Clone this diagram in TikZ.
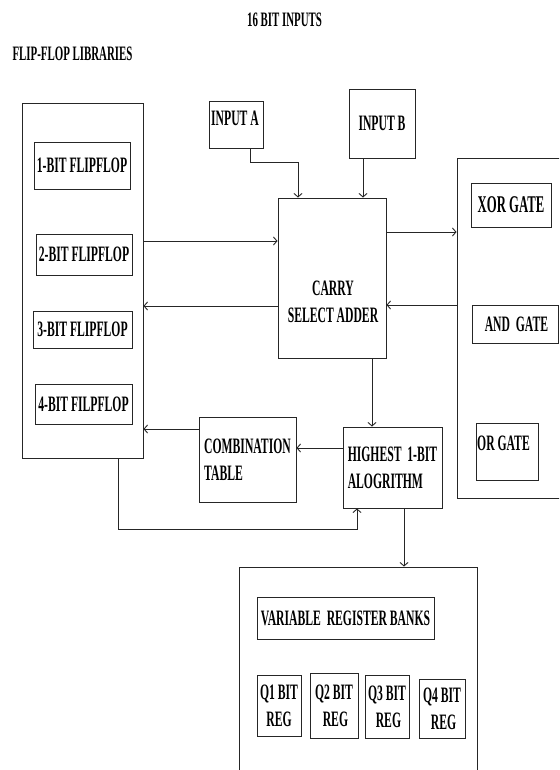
\documentclass[tikz,border=0pt]{standalone}
\usepackage{fontspec}
\usetikzlibrary{arrows.meta}
\newfontfamily\dfont[FakeStretch=0.53]{Liberation Serif Bold}
\tikzset{
  x=1pt, y=-1pt,
  box/.style={draw=black!85, line width=0.9pt, rectangle, inner sep=0pt, font=\dfont\fontsize{22}{27}\selectfont, align=center},
  txt/.style={inner sep=0pt, font=\dfont\fontsize{22}{27}\selectfont, align=center},
  ttl/.style={inner sep=0pt, font=\dfont\fontsize{20.5}{24}\selectfont},
  arr/.style={draw=black!85, line width=0.9pt, -{Straight Barb[length=3.5pt,width=8pt]}},
  ln/.style={draw=black!85, line width=0.9pt}
}
\begin{document}
\begin{tikzpicture}
\useasboundingbox (0,0) rectangle (559,770);
\clip (0,0) rectangle (559,770);
\fill[white] (0,0) rectangle (559,770);
% titles
\node[ttl] (t1) at (284.5,20) {16 BIT INPUTS};
\node[ttl] (t2) at (72.5,53.5) {FLIP-FLOP LIBRARIES};
% flip-flop library
\node[box, minimum width=121, minimum height=355] (lib) at (82.5,280.5) {};
\node[box, minimum width=96, minimum height=47] (ff1) at (82,165.5) {1-BIT FLIPFLOP};
\node[box, minimum width=96, minimum height=41] (ff2) at (84,254.5) {2-BIT FLIPFLOP};
\node[box, minimum width=99, minimum height=37] (ff3) at (82.5,329.5) {3-BIT FLIPFLOP};
\node[box, minimum width=97, minimum height=40] (ff4) at (83.5,404) {4-BIT FILPFLOP};
% inputs
\node[box, minimum width=54, minimum height=47] (inA) at (236,124.5) {};
\node[txt] (inAt) at (235,118) {INPUT A};
\node[box, minimum width=66, minimum height=69] (inB) at (382,123.5) {INPUT B};
% carry select adder
\node[box, minimum width=108, minimum height=160] (csa) at (332,278) {};
\node[txt] (csat) at (333,302) {CARRY\\SELECT ADDER};
% gates
\node[box, minimum width=143, minimum height=340] (gates) at (528.5,328) {};
\node[box, minimum width=80, minimum height=44] (xor) at (511,205) {\fontsize{24}{27}\selectfont XOR GATE};
\node[box, minimum width=86, minimum height=38] (and) at (515,324) {\ AND\ \ GATE};
\node[box, minimum width=62, minimum height=57] (or) at (507,451.5) {};
\node[txt, anchor=west] (ort) at (477,443) {OR GATE};
% combination table and algorithm
\node[box, minimum width=97, minimum height=85, align=left] (comb) at (247.5,459.5) {COMBINATION\\TABLE};
\node[box, minimum width=99, minimum height=81, align=left] (high) at (392.5,467.5) {HIGHEST\ \ 1-BIT\\ALOGRITHM};
% register banks
\node[box, minimum width=238, minimum height=233] (reg) at (358,683.5) {};
\node[box, minimum width=177, minimum height=42] (vrb) at (345.5,618) {VARIABLE\ \ REGISTER BANKS};
\node[box, minimum width=44, minimum height=61] (q1) at (279,705.5) {Q1 BIT\\REG};
\node[box, minimum width=48, minimum height=65] (q2) at (334,705.5) {Q2 BIT\\\ REG};
\node[box, minimum width=44, minimum height=63] (q3) at (387,706.5) {Q3 BIT\\\ REG};
\node[box, minimum width=46, minimum height=59] (q4) at (442,708.5) {Q4 BIT\\\ REG};
% connectors
\draw[arr] (lib.east |- 0,241) -- (csa.west |- 0,241);
\draw[arr] (csa.west |- 0,306) -- (lib.east |- 0,306);
\draw[arr] (250,0 |- inA.south) -- (250,162) -| (298,0 |- csa.north);
\draw[arr] (363,0 |- inB.south) -- (363,0 |- csa.north);
\draw[arr] (csa.east |- 0,232) -- (gates.west |- 0,232);
\draw[arr] (gates.west |- 0,305) -- (csa.east |- 0,305);
\draw[arr] (372,0 |- csa.south) -- (372,0 |- high.north);
\draw[arr] (high.west |- 0,448) -- (comb.east |- 0,448);
\draw[arr] (comb.west |- 0,429) -- (lib.east |- 0,429);
\draw[arr] (118,0 |- lib.south) -- (118,529) -| (357,0 |- high.south);
\draw[arr] (404,0 |- high.south) -- (404,0 |- reg.north);
\end{tikzpicture}
\end{document}
